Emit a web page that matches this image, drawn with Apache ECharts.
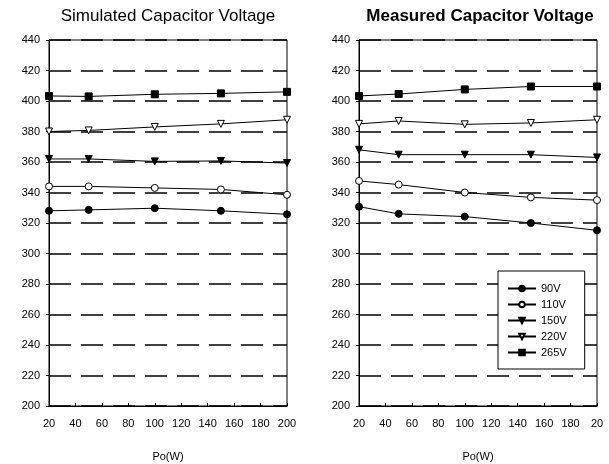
<!DOCTYPE html>
<html><head><meta charset="utf-8">
<script src="https://cdn.jsdelivr.net/npm/echarts@6/dist/echarts.min.js"></script>
<style>html,body{margin:0;padding:0;background:#fff}#c{width:609px;height:464px}</style>
</head><body><div id="c"></div>
<script>
const powerW = [20, 50, 100, 150, 200];
const seriesNames = ['90V', '110V', '150V', '220V', '265V'];
const leftTicks = ['20','40','60','80','100','120','140','160','180','200'];
const rightTicks = ['20','40','60','80','100','120','140','160','180','20'];
const sim90 = [328, 328.6, 329.7, 328, 325.7];
const sim110 = [344, 344, 343, 342, 338.5];
const sim150 = [362, 362, 360.4, 360.7, 359.3];
const sim220 = [380, 380.7, 383, 385, 387.7];
const sim265 = [403.3, 403, 404.4, 405, 406];
const meas90 = [330.7, 326, 324.2, 320, 315.2];
const meas110 = [347.6, 345.2, 340, 336.8, 335];
const meas150 = [368, 364.8, 364.8, 364.8, 363];
const meas220 = [385, 386.9, 384.7, 385.6, 387.7];
const meas265 = [403.3, 404.6, 407.6, 409.5, 409.5];

const simData = [sim90, sim110, sim150, sim220, sim265];
const measData = [meas90, meas110, meas150, meas220, meas265];
const symbols = ['circle', 'circle', 'triangle', 'triangle', 'rect'];
const filled = [true, false, true, false, true];
const rot = [0, 0, 180, 180, 0];
const sizes = [7, 7, 7, 7, 7];

const font = 'Liberation Sans, Arial, sans-serif';

function mkX(idx, ticks) {
  return {
    type: 'value', gridIndex: idx, min: 20, max: 200, interval: 20,
    name: 'Po(W)', nameLocation: 'middle', nameGap: 45,
    nameTextStyle: {color: '#000', fontFamily: font, fontSize: 11},
    axisLine: {lineStyle: {color: '#000', width: 1}},
    axisTick: {show: true, inside: true, length: 3, lineStyle: {color: '#000'}},
    axisLabel: {color: '#000', fontFamily: font, fontSize: 11, margin: 12,
      formatter: (v) => ticks[Math.round((v - 20) / 20)]},
    splitLine: {show: false}
  };
}
function mkY(idx) {
  return {
    type: 'value', gridIndex: idx, min: 200, max: 440, interval: 20,
    axisLine: {show: true, lineStyle: {color: '#000', width: 1}},
    axisTick: {show: true, length: 3, lineStyle: {color: '#000'}},
    axisLabel: {color: '#000', fontFamily: font, fontSize: 11, margin: 9},
    splitLine: {show: true, lineStyle: {color: '#000', width: 1.5, type: [22, 10]}}
  };
}
function mkSeries(dataSets, idx) {
  return dataSets.map((vals, i) => ({
    name: seriesNames[i], type: 'line', xAxisIndex: idx, yAxisIndex: idx,
    data: powerW.map((p, j) => [p, vals[j]]),
    symbol: symbols[i], symbolRotate: rot[i], symbolSize: sizes[i],
    showAllSymbol: true,
    lineStyle: {color: '#000', width: 1},
    itemStyle: {color: filled[i] ? '#000' : '#fff', borderColor: '#000', borderWidth: 1},
    animation: false, z: 5
  }));
}

const chart = echarts.init(document.getElementById('c'));
chart.setOption({
  backgroundColor: '#fff',
  animation: false,
  title: [
    {text: 'Simulated Capacitor Voltage', left: 163, top: 3, textAlign: 'center',
      textStyle: {fontFamily: font, fontSize: 17, fontWeight: 'normal', color: '#000'}},
    {text: 'Measured Capacitor Voltage', left: 475, top: 3, textAlign: 'center',
      textStyle: {fontFamily: font, fontSize: 17, fontWeight: 'bold', color: '#000'}}
  ],
  grid: [
    {left: 49, right: 322, top: 40, bottom: 58, outerBoundsMode: 'none', containLabel: false, show: true, borderColor: '#000', borderWidth: 1, backgroundColor: 'transparent'},
    {left: 359, right: 12, top: 40, bottom: 58, outerBoundsMode: 'none', containLabel: false, show: true, borderColor: '#000', borderWidth: 1, backgroundColor: 'transparent'}
  ],
  xAxis: [mkX(0, leftTicks), mkX(1, rightTicks)],
  yAxis: [mkY(0), mkY(1)],
  legend: {
    data: seriesNames, orient: 'vertical', left: 498, top: 271,
    width: 85, padding: [11, 18, 10, 9], itemGap: 3, itemWidth: 28, itemHeight: 7,
    borderColor: '#000', borderWidth: 1, backgroundColor: '#fff',
    textStyle: {fontFamily: font, fontSize: 11, color: '#000', lineHeight: 13}
  },
  series: mkSeries(simData, 0).concat(mkSeries(measData, 1))
});
</script></body></html>
